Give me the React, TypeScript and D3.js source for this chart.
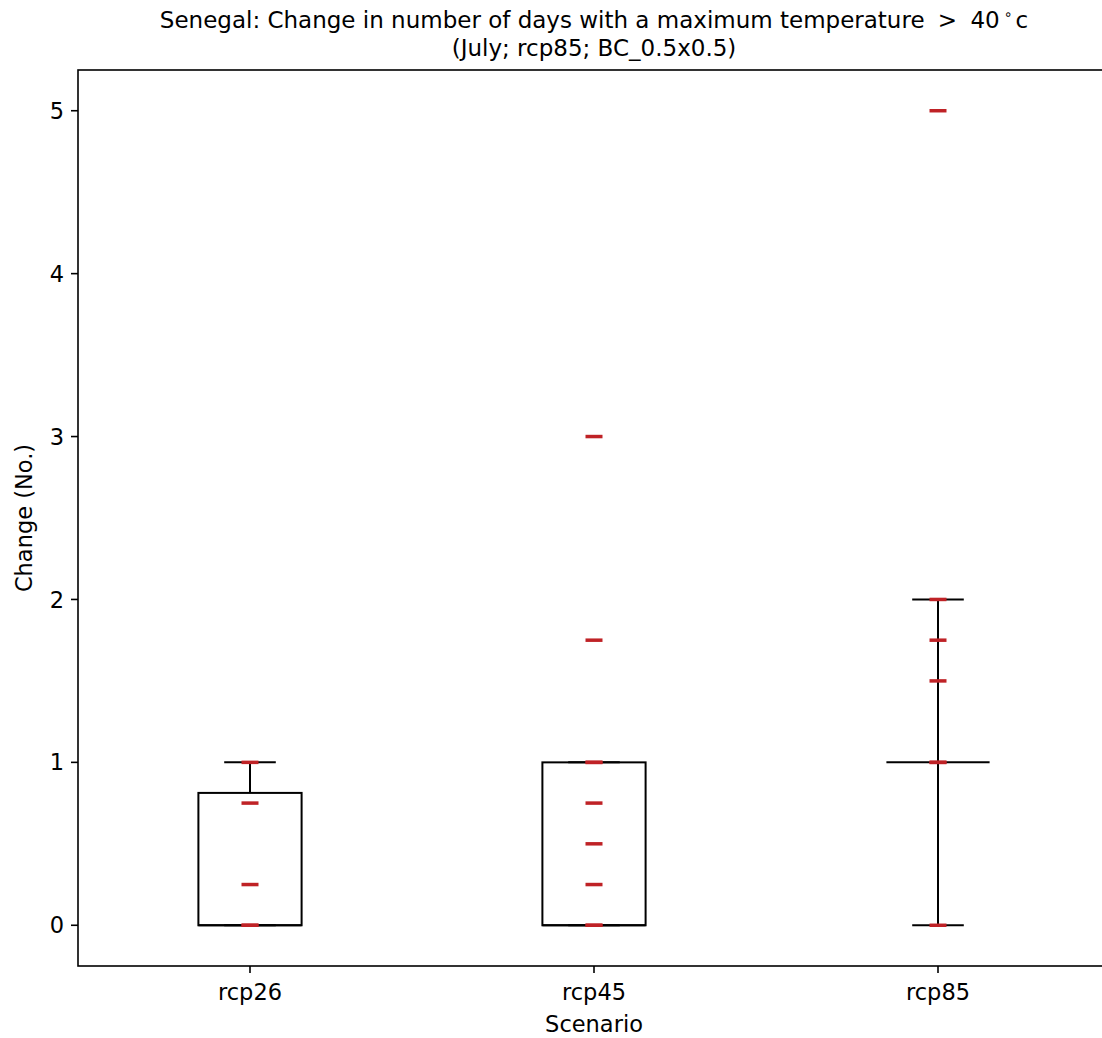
import React from "react";
import * as d3 from "d3";

const categories = ["rcp26", "rcp45", "rcp85"];
// observed values (red dashes)
const pointsRcp26 = [0, 0, 0.25, 0.75, 1];
const pointsRcp45 = [0, 0, 0.25, 0.5, 0.75, 1, 1, 1.75, 3];
const pointsRcp85 = [0, 1, 1, 1.5, 1.75, 2, 5];
const allPoints = [pointsRcp26, pointsRcp45, pointsRcp85];
// box statistics
const q1 = [0, 0, 1];
const median = [0, 0, 1];
const q3 = [0.8125, 1, 1];
const whiskerLow = [0, 0, 0];
const whiskerHigh = [1, 1, 2];
const yTicks = [0, 1, 2, 3, 4, 5];

const W = 1102;
const H = 1038;
const left = 78;
const right = 1110;
const top = 70;
const bottom = 966;
const FONT = "DejaVu Sans, sans-serif";
const RED = "#bf2226";
const FS = 22.5;
const TFS = 23;

export default function App() {
  const x = d3.scaleLinear().domain([0.5, 3.5]).range([left, right]);
  const y = d3.scaleLinear().domain([-0.25, 5.25]).range([bottom, top]);
  const boxW = 0.3;
  const capW = 0.15;
  const lw = 2;
  return (
    <svg width={W} height={H} style={{ position: "absolute", left: 0, top: 0, background: "#fff" }} fontFamily={FONT}>
      <rect x={0} y={0} width={W} height={H} fill="#fff" />
      {categories.map((c, i) => {
        const pos = i + 1;
        const x0 = x(pos - boxW / 2);
        const x1 = x(pos + boxW / 2);
        const cx = x(pos);
        return (
          <g key={c}>
            <line x1={cx} x2={cx} y1={y(q1[i])} y2={y(whiskerLow[i])} stroke="#000" strokeWidth={lw} />
            <line x1={cx} x2={cx} y1={y(q3[i])} y2={y(whiskerHigh[i])} stroke="#000" strokeWidth={lw} />
            <line x1={x(pos - capW / 2)} x2={x(pos + capW / 2)} y1={y(whiskerLow[i])} y2={y(whiskerLow[i])} stroke="#000" strokeWidth={lw} />
            <line x1={x(pos - capW / 2)} x2={x(pos + capW / 2)} y1={y(whiskerHigh[i])} y2={y(whiskerHigh[i])} stroke="#000" strokeWidth={lw} />
            <rect x={x0} y={y(q3[i])} width={x1 - x0} height={y(q1[i]) - y(q3[i])} fill="none" stroke="#000" strokeWidth={lw} />
            <line x1={x0} x2={x1} y1={y(median[i])} y2={y(median[i])} stroke="#000" strokeWidth={lw} />
            {allPoints[i].map((v, j) => (
              <line key={j} x1={cx - 8.5} x2={cx + 8.5} y1={y(v)} y2={y(v)} stroke={RED} strokeWidth={3.5} />
            ))}
          </g>
        );
      })}
      <rect x={left} y={top} width={right - left} height={bottom - top} fill="none" stroke="#000" strokeWidth={1.6} />
      {yTicks.map((t) => (
        <g key={t}>
          <line x1={left - 7} x2={left} y1={y(t)} y2={y(t)} stroke="#000" strokeWidth={1.6} />
          <text x={left - 14} y={y(t)} dy="0.36em" textAnchor="end" fontSize={FS} fill="#000">{t}</text>
        </g>
      ))}
      {categories.map((c, i) => (
        <g key={c}>
          <line x1={x(i + 1)} x2={x(i + 1)} y1={bottom} y2={bottom + 7} stroke="#000" strokeWidth={1.6} />
          <text x={x(i + 1)} y={bottom + 34} textAnchor="middle" fontSize={FS} fill="#000">{c}</text>
        </g>
      ))}
      <text x={(left + right) / 2} y={1032} textAnchor="middle" fontSize={FS} fill="#000">Scenario</text>
      <text transform={`translate(32,${(top + bottom) / 2}) rotate(-90)`} textAnchor="middle" fontSize={FS} fill="#000">Change (No.)</text>
      <text x={(left + right) / 2} y={28} textAnchor="middle" fontSize={TFS} fill="#000">
        Senegal: Change in number of days with a maximum temperature <tspan dx="6">&gt;</tspan> <tspan dx="6">40</tspan><tspan fontSize={14} dy="-9" dx="4">∘</tspan><tspan dy="9" dx="3">c</tspan>
      </text>
      <text x={(left + right) / 2} y={56} textAnchor="middle" fontSize={TFS} fill="#000">(July; rcp85; BC_0.5x0.5)</text>
    </svg>
  );
}
